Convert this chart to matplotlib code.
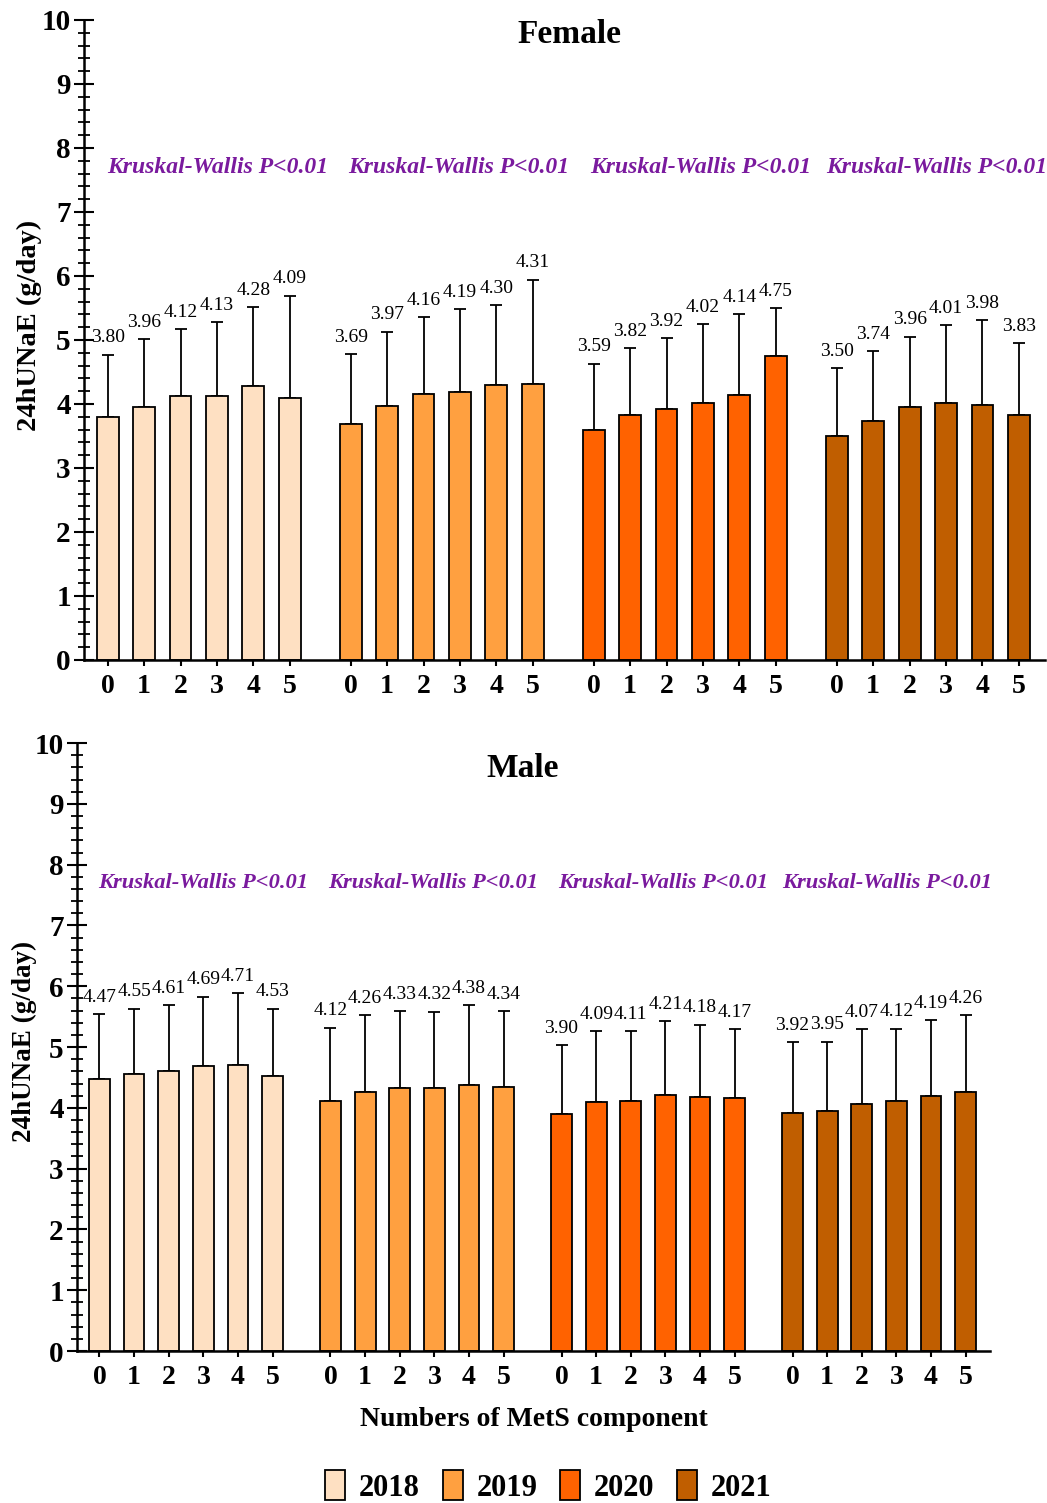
import numpy as np
import matplotlib
matplotlib.use("Agg")
import matplotlib.pyplot as plt
from matplotlib.patches import Patch
from matplotlib.ticker import MultipleLocator

plt.rcParams["font.family"] = ["Liberation Serif", "DejaVu Serif"]

# ─────────────────────────────────────────────── data

years = ["2018", "2019", "2020", "2021"]
components = ["0", "1", "2", "3", "4", "5"]

female_mean = [
    [3.80, 3.96, 4.12, 4.13, 4.28, 4.09],
    [3.69, 3.97, 4.16, 4.19, 4.30, 4.31],
    [3.59, 3.82, 3.92, 4.02, 4.14, 4.75],
    [3.50, 3.74, 3.96, 4.01, 3.98, 3.83],
]
# upper end of the error bar (mean + SD)
female_upper = [
    [4.77, 5.01, 5.17, 5.28, 5.51, 5.69],
    [4.78, 5.13, 5.36, 5.48, 5.54, 5.94],
    [4.63, 4.87, 5.03, 5.25, 5.40, 5.50],
    [4.56, 4.82, 5.05, 5.23, 5.31, 4.95],
]

male_mean = [
    [4.47, 4.55, 4.61, 4.69, 4.71, 4.53],
    [4.12, 4.26, 4.33, 4.32, 4.38, 4.34],
    [3.90, 4.09, 4.11, 4.21, 4.18, 4.17],
    [3.92, 3.95, 4.07, 4.12, 4.19, 4.26],
]
male_upper = [
    [5.54, 5.63, 5.69, 5.83, 5.89, 5.63],
    [5.32, 5.52, 5.59, 5.58, 5.69, 5.59],
    [5.03, 5.26, 5.26, 5.43, 5.37, 5.29],
    [5.08, 5.09, 5.29, 5.30, 5.44, 5.53],
]

test_label = "Kruskal-Wallis P<0.01"

# ─────────────────────────────────────────────── style

YEAR_COLORS = ["#FEE0C2", "#FFA040", "#FF6200", "#C05E00"]
KW_COLOR = "#7A1A9E"
GROUP_STEP = 6.67
BAR_W = 0.6


def draw_panel(ax, means, uppers, title, title_x, title_y, kw_nudge,
               right_pad, kw_size, ylab_size, ylab_y):
    n = len(components)
    for g, (m, up) in enumerate(zip(means, uppers)):
        x = g * GROUP_STEP + np.arange(n)
        m = np.array(m)
        err = np.array(up) - m
        ax.bar(x, m, width=BAR_W, color=YEAR_COLORS[g], edgecolor="black",
               linewidth=1.3, zorder=2)
        ax.errorbar(x, m, yerr=[np.zeros(n), err], fmt="none", ecolor="black",
                    elinewidth=1.3, capsize=4.5, capthick=1.3, zorder=1)
        for xi, mi, ui in zip(x, m, up):
            ax.annotate(f"{mi:.2f}", (xi, ui), xytext=(0, 6),
                        textcoords="offset points", ha="center", va="bottom",
                        fontsize=14)
        ax.text(x[0] + kw_nudge[g], 7.7, test_label, color=KW_COLOR,
                fontsize=kw_size, fontweight="bold", fontstyle="italic",
                ha="left", va="center")

    ticks = np.concatenate([g * GROUP_STEP + np.arange(n) for g in range(len(years))])
    ax.set_xticks(ticks)
    ax.set_xticklabels(components * len(years), fontsize=20, fontweight="bold")
    ax.set_xlim(-0.65, (len(years) - 1) * GROUP_STEP + n - 1 + right_pad)

    ax.set_ylim(0, 10)
    ax.yaxis.set_major_locator(MultipleLocator(1))
    ax.yaxis.set_minor_locator(MultipleLocator(0.2))
    for lab in ax.get_yticklabels():
        lab.set_fontsize(21)
        lab.set_fontweight("bold")
    ax.tick_params(axis="y", which="major", direction="inout", length=15,
                   width=1.5, pad=2)
    ax.tick_params(axis="y", which="minor", direction="inout", length=8,
                   width=1.3)
    ax.tick_params(axis="x", which="major", direction="inout", length=8,
                   width=1.5, pad=6)
    ax.set_ylabel("24hUNaE (g/day)", fontsize=ylab_size, fontweight="bold")
    ax.yaxis.set_label_coords(-0.044, ylab_y)

    for side in ("top", "right"):
        ax.spines[side].set_visible(False)
    for side in ("left", "bottom"):
        ax.spines[side].set_linewidth(1.8)

    ax.text(title_x, title_y, title, transform=ax.transAxes, ha="center",
            va="center", fontsize=24, fontweight="bold")


fig = plt.figure(figsize=(10.47, 15.03), dpi=100)

ax_f = fig.add_axes([0.0802, 0.5609, 0.918, 0.4258])
draw_panel(ax_f, female_mean, female_upper, "Female", 0.505, 0.977,
           kw_nudge=[-0.02, -0.08, -0.1, -0.3], right_pad=0.72, kw_size=17,
           ylab_size=20.5, ylab_y=0.523)

ax_m = fig.add_axes([0.0735, 0.1011, 0.872, 0.4045])
draw_panel(ax_m, male_mean, male_upper, "Male", 0.488, 0.958,
           kw_nudge=[-0.05, -0.08, -0.1, -0.3], right_pad=0.7, kw_size=16.2,
           ylab_size=19.5, ylab_y=0.51)
ax_m.set_xlabel("Numbers of MetS component", fontsize=20, fontweight="bold",
                labelpad=12)

handles = [Patch(facecolor=c, edgecolor="black", linewidth=1.3) for c in YEAR_COLORS]
fig.legend(handles, years, loc="lower center", bbox_to_anchor=(0.524, -0.018),
           ncol=4, frameon=False, prop={"size": 22, "weight": "bold"},
           handlelength=0.65, handleheight=1.1, handletextpad=0.45,
           columnspacing=0.75)

fig.savefig("out.png", dpi=100)
plt.close(fig)
